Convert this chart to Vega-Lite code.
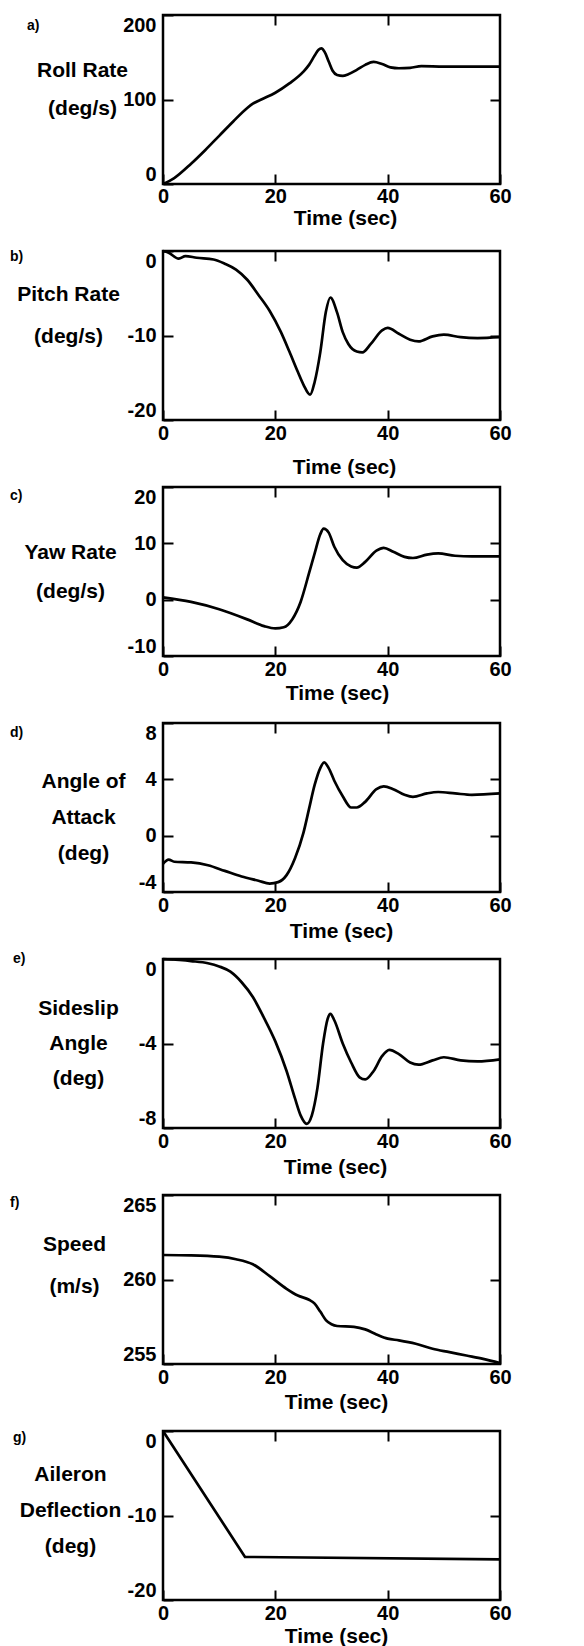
{
"$schema": "https://vega.github.io/schema/vega-lite/v6.json",
"background": "white",
"padding": {"left": 8, "top": 12, "right": 5, "bottom": 0},
"datasets": {
"roll": [{"t":0,"v":0},{"t":2,"v":7},{"t":5,"v":24},{"t":7.5,"v":40},{"t":10,"v":57},{"t":12.5,"v":74},{"t":15,"v":90},{"t":16,"v":95},{"t":17.5,"v":100},{"t":20,"v":108},{"t":22.5,"v":119},{"t":25,"v":133},{"t":26,"v":141},{"t":27,"v":152},{"t":27.7,"v":159},{"t":28.2,"v":160.5},{"t":28.8,"v":156},{"t":29.5,"v":145},{"t":30.2,"v":134},{"t":31,"v":129},{"t":32,"v":128},{"t":33,"v":130},{"t":34.5,"v":135},{"t":36,"v":141},{"t":37.5,"v":144.5},{"t":39,"v":142},{"t":40.5,"v":138},{"t":42,"v":137},{"t":44,"v":137.5},{"t":46,"v":139.5},{"t":50,"v":139},{"t":55,"v":139},{"t":60,"v":139}],
"pitch": [{"t":0,"v":0},{"t":1,"v":-0.2},{"t":2.8,"v":-0.9},{"t":4,"v":-0.6},{"t":6,"v":-0.8},{"t":9,"v":-1.0},{"t":11,"v":-1.5},{"t":13,"v":-2.2},{"t":15,"v":-3.4},{"t":17,"v":-5.2},{"t":19,"v":-7.1},{"t":21,"v":-9.6},{"t":22.5,"v":-11.9},{"t":24,"v":-14.3},{"t":25,"v":-15.8},{"t":26.2,"v":-17.0},{"t":27,"v":-15.5},{"t":28,"v":-12.0},{"t":29,"v":-7.2},{"t":29.8,"v":-5.5},{"t":31,"v":-7.3},{"t":32,"v":-9.6},{"t":33,"v":-11.0},{"t":34.5,"v":-11.9},{"t":35.5,"v":-12.0},{"t":37,"v":-11.0},{"t":39,"v":-9.4},{"t":40,"v":-9.1},{"t":42,"v":-9.8},{"t":44,"v":-10.5},{"t":45.5,"v":-10.7},{"t":48,"v":-10.1},{"t":50,"v":-9.9},{"t":53,"v":-10.2},{"t":56,"v":-10.3},{"t":60,"v":-10.2}],
"yaw": [{"t":0,"v":0.4},{"t":5,"v":-0.4},{"t":10,"v":-1.7},{"t":15,"v":-3.5},{"t":18,"v":-4.7},{"t":20,"v":-5.1},{"t":21.5,"v":-4.9},{"t":23,"v":-3.5},{"t":24.5,"v":-0.4},{"t":26,"v":4.7},{"t":27,"v":8.2},{"t":28,"v":11.6},{"t":28.6,"v":12.6},{"t":29.5,"v":11.9},{"t":30.5,"v":9.4},{"t":32,"v":7.0},{"t":33.5,"v":5.9},{"t":34.5,"v":5.7},{"t":36,"v":6.7},{"t":38,"v":8.7},{"t":39.3,"v":9.2},{"t":41,"v":8.5},{"t":43,"v":7.6},{"t":44.5,"v":7.4},{"t":47,"v":8.0},{"t":49,"v":8.2},{"t":52,"v":7.8},{"t":55,"v":7.7},{"t":60,"v":7.7}],
"alpha": [{"t":0,"v":-2.0},{"t":1,"v":-1.7},{"t":2,"v":-1.85},{"t":5,"v":-1.9},{"t":8,"v":-2.1},{"t":11,"v":-2.5},{"t":14,"v":-2.9},{"t":17,"v":-3.2},{"t":19,"v":-3.4},{"t":20.5,"v":-3.3},{"t":22,"v":-2.8},{"t":23.5,"v":-1.6},{"t":25,"v":0.2},{"t":26,"v":1.9},{"t":27,"v":3.6},{"t":28,"v":4.8},{"t":28.7,"v":5.2},{"t":29.5,"v":4.8},{"t":30.5,"v":3.9},{"t":32,"v":2.8},{"t":33.5,"v":2.0},{"t":34.5,"v":2.0},{"t":36,"v":2.4},{"t":38,"v":3.3},{"t":39.3,"v":3.5},{"t":41,"v":3.3},{"t":43,"v":2.9},{"t":44.5,"v":2.75},{"t":47,"v":3.0},{"t":49,"v":3.1},{"t":52,"v":3.0},{"t":55,"v":2.9},{"t":60,"v":3.0}],
"beta": [{"t":0,"v":0},{"t":5,"v":-0.1},{"t":8,"v":-0.2},{"t":10,"v":-0.35},{"t":12,"v":-0.6},{"t":14,"v":-1.1},{"t":16,"v":-1.8},{"t":18,"v":-2.8},{"t":20,"v":-3.9},{"t":22,"v":-5.3},{"t":23.5,"v":-6.6},{"t":24.5,"v":-7.4},{"t":25.6,"v":-7.8},{"t":26.5,"v":-7.4},{"t":27.5,"v":-6.1},{"t":28.5,"v":-4.0},{"t":29.3,"v":-2.85},{"t":29.8,"v":-2.6},{"t":30.5,"v":-2.9},{"t":32,"v":-4.0},{"t":33.5,"v":-4.9},{"t":35,"v":-5.6},{"t":36,"v":-5.7},{"t":37.5,"v":-5.3},{"t":39,"v":-4.6},{"t":40.3,"v":-4.3},{"t":42,"v":-4.5},{"t":44,"v":-4.9},{"t":45.5,"v":-5.0},{"t":48,"v":-4.8},{"t":50,"v":-4.65},{"t":53,"v":-4.8},{"t":56,"v":-4.85},{"t":60,"v":-4.75}],
"speed": [{"t":0,"v":261.45},{"t":5,"v":261.43},{"t":10,"v":261.35},{"t":13,"v":261.2},{"t":16,"v":260.9},{"t":19,"v":260.2},{"t":22,"v":259.45},{"t":24,"v":259.05},{"t":26,"v":258.8},{"t":27,"v":258.57},{"t":28,"v":258.1},{"t":29,"v":257.6},{"t":30,"v":257.35},{"t":31,"v":257.25},{"t":34,"v":257.2},{"t":36,"v":257.05},{"t":38,"v":256.75},{"t":40,"v":256.5},{"t":42,"v":256.4},{"t":45,"v":256.2},{"t":48,"v":255.9},{"t":51,"v":255.7},{"t":54,"v":255.5},{"t":57,"v":255.3},{"t":60,"v":255.05}],
"ail": [{"t":0,"v":0},{"t":14.6,"v":-14.9},{"t":60,"v":-15.2}]
},
"vconcat": [
{"title": {"text": "a)", "dx": -136, "dy": 23}, "width": 337, "height": 169, "data": {"name": "roll"},
 "layer": [
  {"mark": {"type": "line", "interpolate": "monotone", "color": "black", "strokeWidth": 2.7},
   "encoding": {
    "x": {"field": "t", "type": "quantitative", "scale": {"domain": [0, 60]}, "axis": {"values": [0, 20, 40, 60], "labelPadding": 12, "title": "Time (sec)", "titleX": 182, "titleY": 40}},
    "y": {"field": "v", "type": "quantitative", "scale": {"domain": [0, 200], "zero": false, "nice": false}, "axis": {"values": [0, 100, 200], "title": ["Roll Rate", "(deg/s)"], "titleLineHeight": 38, "titleX": -81, "titleY": 61}}}},
  {"mark": {"type": "line", "opacity": 0},
   "encoding": {
    "x": {"field": "t", "type": "quantitative", "scale": {"domain": [0, 60]}, "axis": {"orient": "top", "values": [20, 40], "labels": false, "title": null}},
    "y": {"field": "v", "type": "quantitative", "scale": {"domain": [0, 200], "zero": false, "nice": false}, "axis": {"orient": "right", "values": [100], "labels": false, "title": null}}}}
 ],
 "resolve": {"axis": {"x": "independent", "y": "independent"}}},
{"title": {"text": "b)", "dx": -153, "dy": 22}, "width": 337, "height": 169, "data": {"name": "pitch"},
 "layer": [
  {"mark": {"type": "line", "interpolate": "monotone", "color": "black", "strokeWidth": 2.7},
   "encoding": {
    "x": {"field": "t", "type": "quantitative", "scale": {"domain": [0, 60]}, "axis": {"values": [0, 20, 40, 60], "title": "Time (sec)", "titleX": 181, "titleY": 53}},
    "y": {"field": "v", "type": "quantitative", "scale": {"domain": [-20, 0], "zero": false, "nice": false}, "axis": {"values": [-20, -10, 0], "labelExpr": "replace(datum.label, '\u2212', '-')", "title": ["Pitch Rate", "(deg/s)"], "titleLineHeight": 42, "titleX": -95, "titleY": 49}}}},
  {"mark": {"type": "line", "opacity": 0},
   "encoding": {
    "x": {"field": "t", "type": "quantitative", "scale": {"domain": [0, 60]}, "axis": {"orient": "top", "values": [20, 40], "labels": false, "title": null}},
    "y": {"field": "v", "type": "quantitative", "scale": {"domain": [-20, 0], "zero": false, "nice": false}, "axis": {"orient": "right", "values": [-10], "labels": false, "title": null}}}}
 ],
 "resolve": {"axis": {"x": "independent", "y": "independent"}}},
{"title": {"text": "c)", "dx": -153, "dy": 21}, "width": 337, "height": 169, "data": {"name": "yaw"},
 "layer": [
  {"mark": {"type": "line", "interpolate": "monotone", "color": "black", "strokeWidth": 2.7},
   "encoding": {
    "x": {"field": "t", "type": "quantitative", "scale": {"domain": [0, 60]}, "axis": {"values": [0, 20, 40, 60], "title": "Time (sec)", "titleX": 174, "titleY": 43}},
    "y": {"field": "v", "type": "quantitative", "scale": {"domain": [-10, 20], "zero": false, "nice": false}, "axis": {"values": [-10, 0, 10, 20], "labelExpr": "replace(datum.label, '\u2212', '-')", "title": ["Yaw Rate", "(deg/s)"], "titleLineHeight": 39, "titleX": -93, "titleY": 71}}}},
  {"mark": {"type": "line", "opacity": 0},
   "encoding": {
    "x": {"field": "t", "type": "quantitative", "scale": {"domain": [0, 60]}, "axis": {"orient": "top", "values": [20, 40], "labels": false, "title": null}},
    "y": {"field": "v", "type": "quantitative", "scale": {"domain": [-10, 20], "zero": false, "nice": false}, "axis": {"orient": "right", "values": [0, 10], "labels": false, "title": null}}}}
 ],
 "resolve": {"axis": {"x": "independent", "y": "independent"}}},
{"title": {"text": "d)", "dx": -153, "dy": 22}, "width": 337, "height": 169, "data": {"name": "alpha"},
 "layer": [
  {"mark": {"type": "line", "interpolate": "monotone", "color": "black", "strokeWidth": 2.7},
   "encoding": {
    "x": {"field": "t", "type": "quantitative", "scale": {"domain": [0, 60]}, "axis": {"values": [0, 20, 40, 60], "title": "Time (sec)", "titleX": 178, "titleY": 45}},
    "y": {"field": "v", "type": "quantitative", "scale": {"domain": [-4, 8], "zero": false, "nice": false}, "axis": {"values": [-4, 0, 4, 8], "labelExpr": "replace(datum.label, '\u2212', '-')", "title": ["Angle of", "Attack", "(deg)"], "titleLineHeight": 36, "titleX": -80, "titleY": 64}}}},
  {"mark": {"type": "line", "opacity": 0},
   "encoding": {
    "x": {"field": "t", "type": "quantitative", "scale": {"domain": [0, 60]}, "axis": {"orient": "top", "values": [20, 40], "labels": false, "title": null}},
    "y": {"field": "v", "type": "quantitative", "scale": {"domain": [-4, 8], "zero": false, "nice": false}, "axis": {"orient": "right", "values": [0, 4], "labels": false, "title": null}}}}
 ],
 "resolve": {"axis": {"x": "independent", "y": "independent"}}},
{"title": {"text": "e)", "dx": -150, "dy": 16}, "width": 337, "height": 169, "data": {"name": "beta"},
 "layer": [
  {"mark": {"type": "line", "interpolate": "monotone", "color": "black", "strokeWidth": 2.7},
   "encoding": {
    "x": {"field": "t", "type": "quantitative", "scale": {"domain": [0, 60]}, "axis": {"values": [0, 20, 40, 60], "title": "Time (sec)", "titleX": 172, "titleY": 45}},
    "y": {"field": "v", "type": "quantitative", "scale": {"domain": [-8, 0], "zero": false, "nice": false}, "axis": {"values": [-8, -4, 0], "labelExpr": "replace(datum.label, '\u2212', '-')", "title": ["Sideslip", "Angle", "(deg)"], "titleLineHeight": 35, "titleX": -85, "titleY": 55}}}},
  {"mark": {"type": "line", "opacity": 0},
   "encoding": {
    "x": {"field": "t", "type": "quantitative", "scale": {"domain": [0, 60]}, "axis": {"orient": "top", "values": [20, 40], "labels": false, "title": null}},
    "y": {"field": "v", "type": "quantitative", "scale": {"domain": [-8, 0], "zero": false, "nice": false}, "axis": {"orient": "right", "values": [-4], "labels": false, "title": null}}}}
 ],
 "resolve": {"axis": {"x": "independent", "y": "independent"}}},
{"title": {"text": "f)", "dx": -153, "dy": 20}, "width": 337, "height": 169, "data": {"name": "speed"},
 "layer": [
  {"mark": {"type": "line", "interpolate": "monotone", "color": "black", "strokeWidth": 2.7},
   "encoding": {
    "x": {"field": "t", "type": "quantitative", "scale": {"domain": [0, 60]}, "axis": {"values": [0, 20, 40, 60], "title": "Time (sec)", "titleX": 173, "titleY": 44}},
    "y": {"field": "v", "type": "quantitative", "scale": {"domain": [255, 265], "zero": false, "nice": false}, "axis": {"values": [255, 260, 265], "title": ["Speed", "(m/s)"], "titleLineHeight": 42, "titleX": -89, "titleY": 55}}}},
  {"mark": {"type": "line", "opacity": 0},
   "encoding": {
    "x": {"field": "t", "type": "quantitative", "scale": {"domain": [0, 60]}, "axis": {"orient": "top", "values": [20, 40], "labels": false, "title": null}},
    "y": {"field": "v", "type": "quantitative", "scale": {"domain": [255, 265], "zero": false, "nice": false}, "axis": {"orient": "right", "values": [260], "labels": false, "title": null}}}}
 ],
 "resolve": {"axis": {"x": "independent", "y": "independent"}}},
{"title": {"text": "g)", "dx": -150, "dy": 23}, "width": 337, "height": 169, "data": {"name": "ail"},
 "layer": [
  {"mark": {"type": "line", "color": "black", "strokeWidth": 2.7},
   "encoding": {
    "x": {"field": "t", "type": "quantitative", "scale": {"domain": [0, 60]}, "axis": {"values": [0, 20, 40, 60], "title": "Time (sec)", "titleX": 173, "titleY": 42}},
    "y": {"field": "v", "type": "quantitative", "scale": {"domain": [-20, 0], "zero": false, "nice": false}, "axis": {"values": [-20, -10, 0], "labelExpr": "replace(datum.label, '\u2212', '-')", "title": ["Aileron", "Deflection", "(deg)"], "titleLineHeight": 36, "titleX": -93, "titleY": 49}}}},
  {"mark": {"type": "line", "opacity": 0},
   "encoding": {
    "x": {"field": "t", "type": "quantitative", "scale": {"domain": [0, 60]}, "axis": {"orient": "top", "values": [20, 40], "labels": false, "title": null}},
    "y": {"field": "v", "type": "quantitative", "scale": {"domain": [-20, 0], "zero": false, "nice": false}, "axis": {"orient": "right", "values": [-10], "labels": false, "title": null}}}}
 ],
 "resolve": {"axis": {"x": "independent", "y": "independent"}}}
],
"spacing": 67,
"bounds": "flush",
"config": {
 "view": {"stroke": "black", "strokeWidth": 2.5},
 "font": "Liberation Sans",
 "title": {"font": "Liberation Sans", "fontSize": 14, "fontWeight": "bold", "color": "black", "anchor": "start", "frame": "group", "offset": 0, "baseline": "middle"},
 "axis": {"grid": false, "domain": false, "tickColor": "black", "tickWidth": 2, "tickSize": -10, "labelFont": "Liberation Sans", "labelFontSize": 20, "labelFontWeight": "bold", "labelColor": "black", "titleFont": "Liberation Sans", "titleFontSize": 21, "titleFontWeight": "bold", "titleColor": "black"},
 "axisX": {"labelPadding": 13, "labelFlush": false, "titleAlign": "center", "titleBaseline": "alphabetic", "titleAnchor": "start"},
 "axisY": {"labelPadding": 17, "labelFlush": true, "titleAngle": 0, "titleAlign": "center", "titleBaseline": "alphabetic", "titleAnchor": "start"}
}
}
